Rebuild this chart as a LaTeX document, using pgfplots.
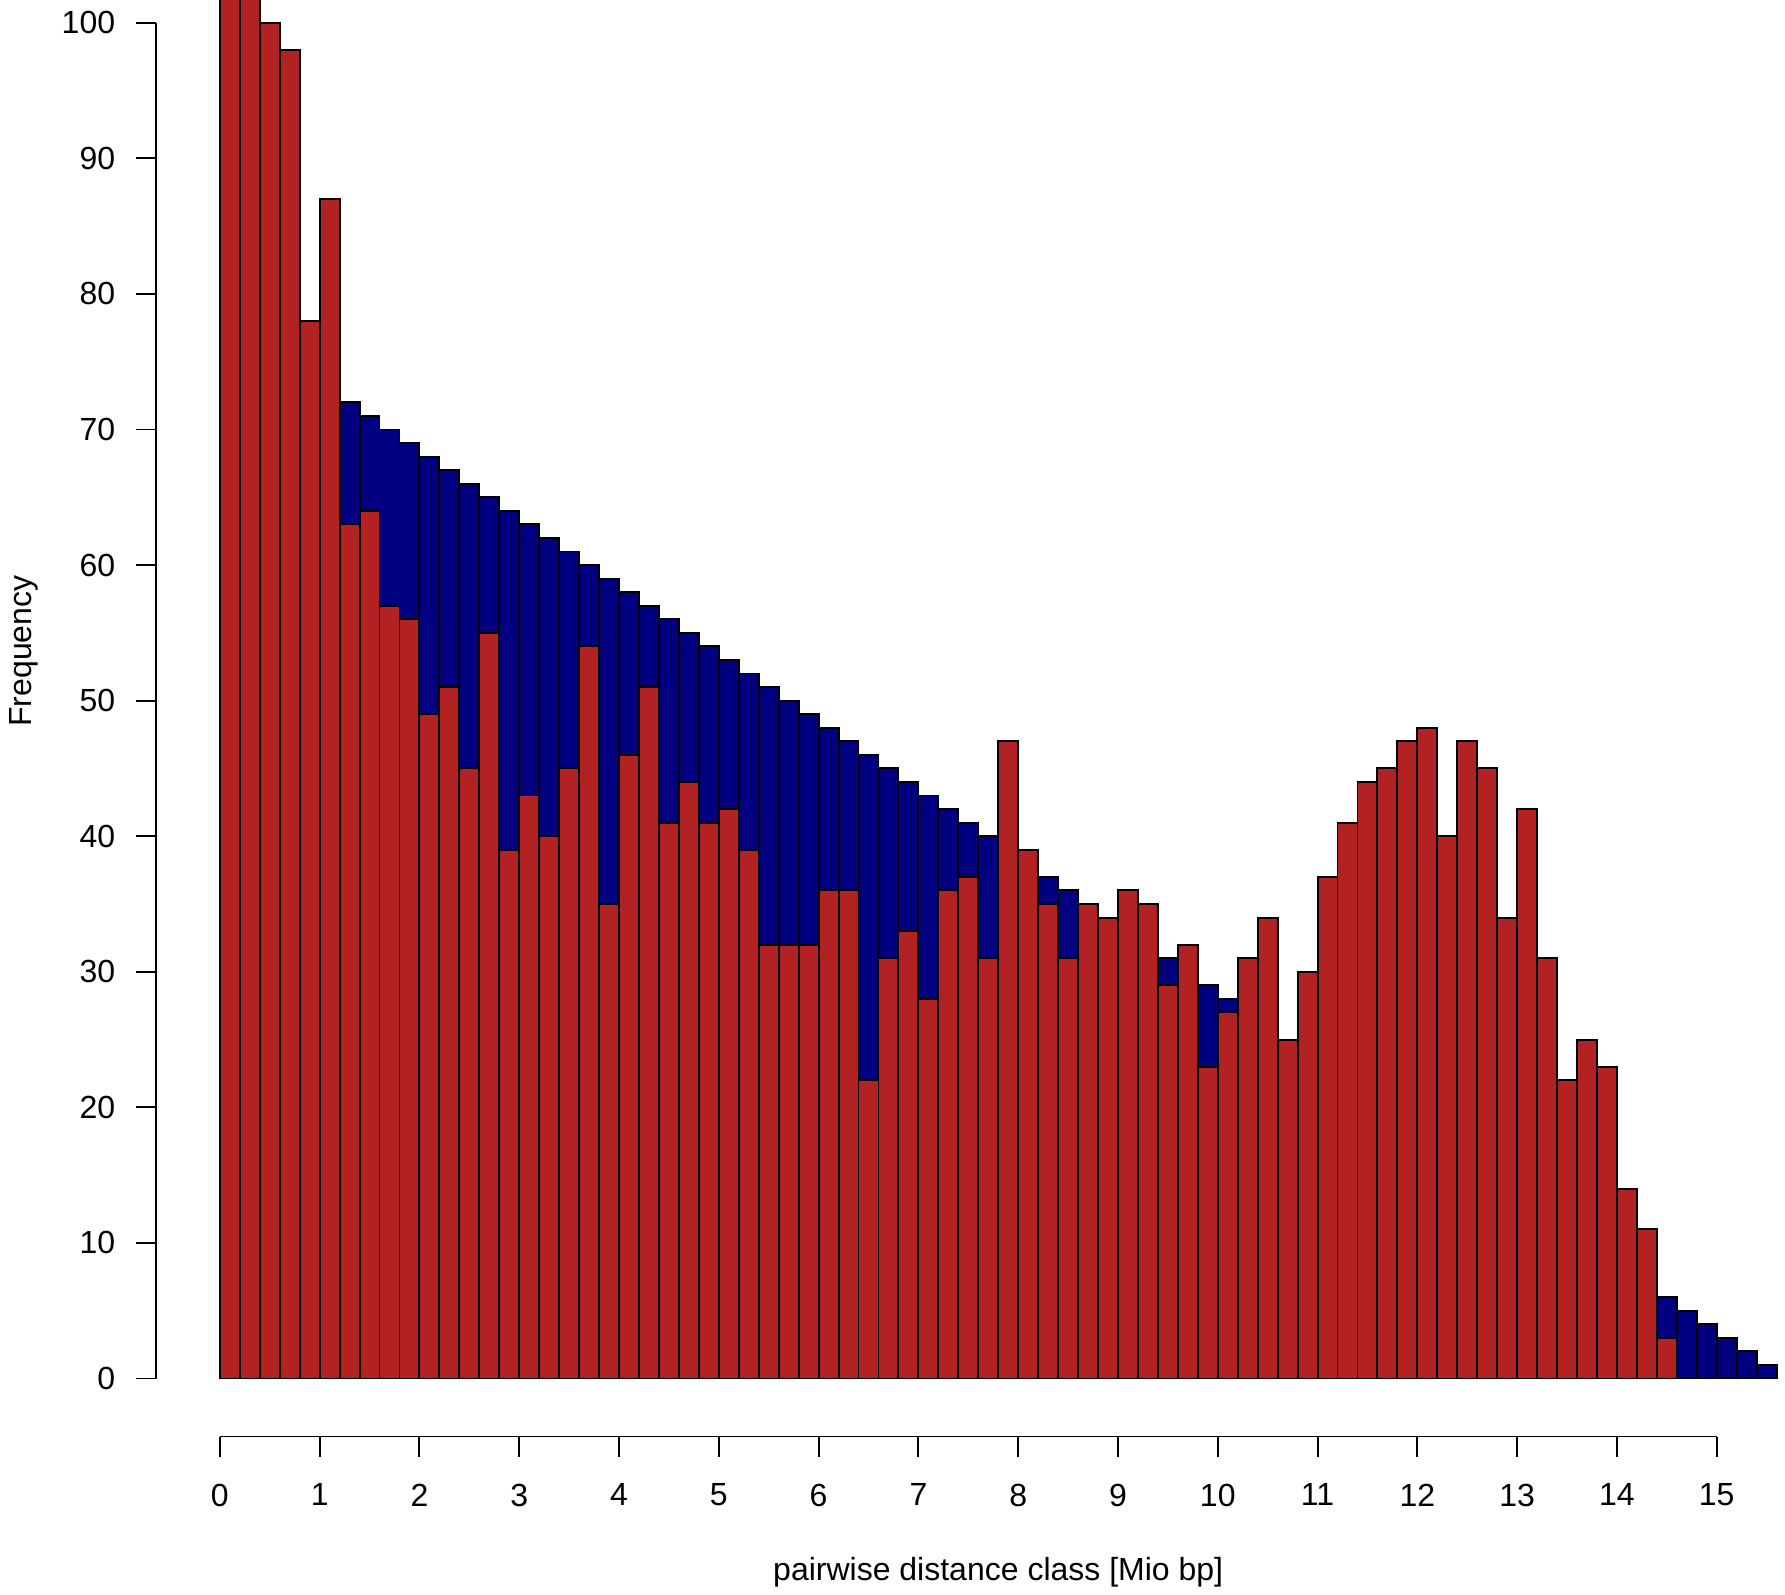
\documentclass[border=0pt]{standalone}
\usepackage{pgfplots}
\pgfplotsset{compat=1.18}
\usepackage{pgfplotstable}
\usepackage{fontspec}
\setmainfont{Liberation Sans}
\definecolor{navyR}{RGB}{0,0,128}
\definecolor{firebrickR}{RGB}{178,34,34}

\pgfplotstableread{
x blue red
0.1 78 120
0.3 77 110
0.5 76 100
0.7 75 98
0.9 74 78
1.1 73 87
1.3 72 63
1.5 71 64
1.7 70 57
1.9 69 56
2.1 68 49
2.3 67 51
2.5 66 45
2.7 65 55
2.9 64 39
3.1 63 43
3.3 62 40
3.5 61 45
3.7 60 54
3.9 59 35
4.1 58 46
4.3 57 51
4.5 56 41
4.7 55 44
4.9 54 41
5.1 53 42
5.3 52 39
5.5 51 32
5.7 50 32
5.9 49 32
6.1 48 36
6.3 47 36
6.5 46 22
6.7 45 31
6.9 44 33
7.1 43 28
7.3 42 36
7.5 41 37
7.7 40 31
7.9 39 47
8.1 38 39
8.3 37 35
8.5 36 31
8.7 35 35
8.9 34 34
9.1 33 36
9.3 32 35
9.5 31 29
9.7 30 32
9.9 29 23
10.1 28 27
10.3 27 31
10.5 26 34
10.7 25 25
10.9 24 30
11.1 23 37
11.3 22 41
11.5 21 44
11.7 20 45
11.9 19 47
12.1 18 48
12.3 17 40
12.5 16 47
12.7 15 45
12.9 14 34
13.1 13 42
13.3 12 31
13.5 11 22
13.7 10 25
13.9 9 23
14.1 8 14
14.3 7 11
14.5 6 3
14.7 5 nan
14.9 4 nan
15.1 3 nan
15.3 2 nan
15.5 1 nan
}\histdata

\begin{document}
\begin{tikzpicture}
\begin{axis}[
  scale only axis,
  width=509.1bp, height=448.9bp,
  xmin=-0.64, xmax=15.686, ymin=-4.278, ymax=101.68,
  axis x line*=bottom, axis y line*=left,
  axis line style={draw=none},
  xtick={0,...,15}, ytick={0,10,...,100},
  tick align=outside, major tick length=6.25bp,
  tick style={black, line width=0.6bp},
  ticklabel style={font=\fontsize{10bp}{12bp}\selectfont},
  /pgf/number format/assume math mode=true,
  yticklabel style={xshift=-3bp},
  xticklabel style={yshift=-5bp},
  ybar, bar width=0.2, bar shift=0pt,
  clip mode=individual,
  unbounded coords=discard,
]
\addplot[fill=navyR, draw=black, line width=0.6bp] table[x=x, y=blue] {\histdata};
\addplot[fill=firebrickR, draw=black, line width=0.6bp] table[x=x, y=red] {\histdata};
\draw[line width=0.6bp] (axis cs:0,-4.278) -- (axis cs:15,-4.278);
\draw[line width=0.6bp] (axis cs:-0.64,0) -- (axis cs:-0.64,100);
\node[font=\fontsize{10bp}{12bp}\selectfont, rotate=90] at (axis cs:-1.969,53.66) {Frequency};
\node[font=\fontsize{10bp}{12bp}\selectfont] at (axis cs:7.8,-14.26) {pairwise distance class [Mio bp]};
\end{axis}
\pgfresetboundingbox
\path[use as bounding box] (current axis.south west) ++(-48.75bp,-49.5bp) rectangle ++(557.8bp,498.4bp);
\end{tikzpicture}
\end{document}
